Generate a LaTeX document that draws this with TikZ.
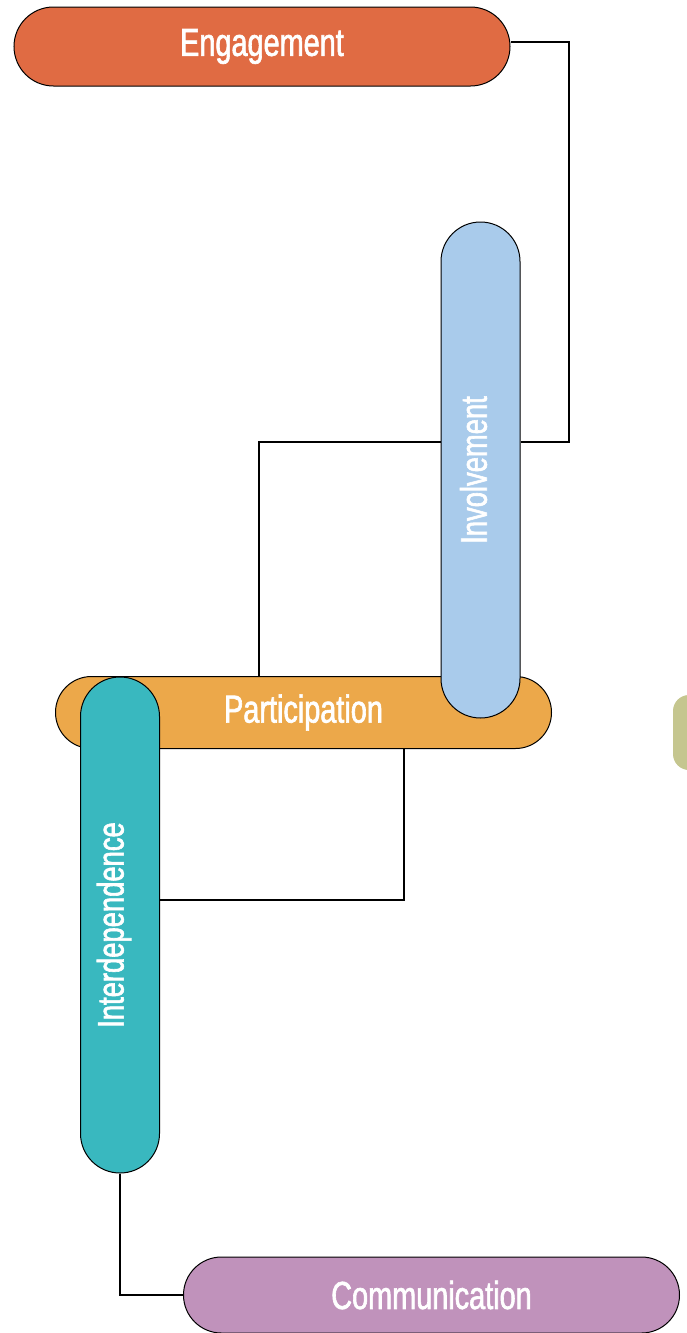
\documentclass[tikz,border=0pt]{standalone}
\usepackage{fontspec}
\newfontfamily\pillfont[FakeStretch=0.74,FakeBold=1.6]{Liberation Sans}
\definecolor{engcol}{HTML}{E06B43}
\definecolor{invcol}{HTML}{A9CBEB}
\definecolor{partcol}{HTML}{ECA84A}
\definecolor{intercol}{HTML}{39B8BF}
\definecolor{commcol}{HTML}{C092BB}
\definecolor{olivecol}{HTML}{C5C68F}

\begin{document}
\begin{tikzpicture}[x=1pt,y=-1pt,
	pill/.style={draw=black,line width=1pt,rounded corners=39.5pt,inner sep=0pt,
		text=white,font=\pillfont\fontsize{39}{39}\selectfont},
	hpill/.style={pill,minimum width=496pt,minimum height=79pt},
	vpill/.style={pill,minimum width=79pt,minimum height=496pt},
	link/.style={draw=black,line width=2pt}]
			\useasboundingbox (0,0) rectangle (687,1333);
			
			\node[hpill,fill=engcol] (eng) at (262,46.5) {Engagement};
			\node[hpill,fill=partcol,minimum height=72pt,rounded corners=36pt] (part) at (303.5,712.5) {Participation};
			\node[vpill,fill=invcol] (inv) at (480.5,470) {\rotatebox{90}{\fontsize{37}{37}\selectfont Involvement}\hspace*{14pt}};
			\node[vpill,fill=intercol] (inter) at (120,925) {\rotatebox{90}{\fontsize{37}{37}\selectfont Interdependence}\hspace*{12pt}};
			\node[hpill,fill=commcol,minimum height=76pt,rounded corners=38pt] (comm) at (431.5,1295) {Communication};
			\node[fill=olivecol,rounded corners=16pt,minimum width=80pt,minimum height=75pt] (extra) at (713,732.5) {};
			
			\coordinate (bend1) at (569,442);
			\coordinate (bend2) at (259,442);
			\coordinate (bend3) at (404,900);
			
			\draw[link] ([yshift=4.5pt]eng.east) -| (bend1) -- (bend1 -| inv.east);
			\draw[link] (bend2 -| inv.west) -- (bend2) -- (bend2 |- part.north);
			\draw[link] (bend3 |- part.south) -- (bend3) -- (bend3 -| inter.east);
			\draw[link] (inter.south) |- (comm.west);
\end{tikzpicture}
\end{document}
